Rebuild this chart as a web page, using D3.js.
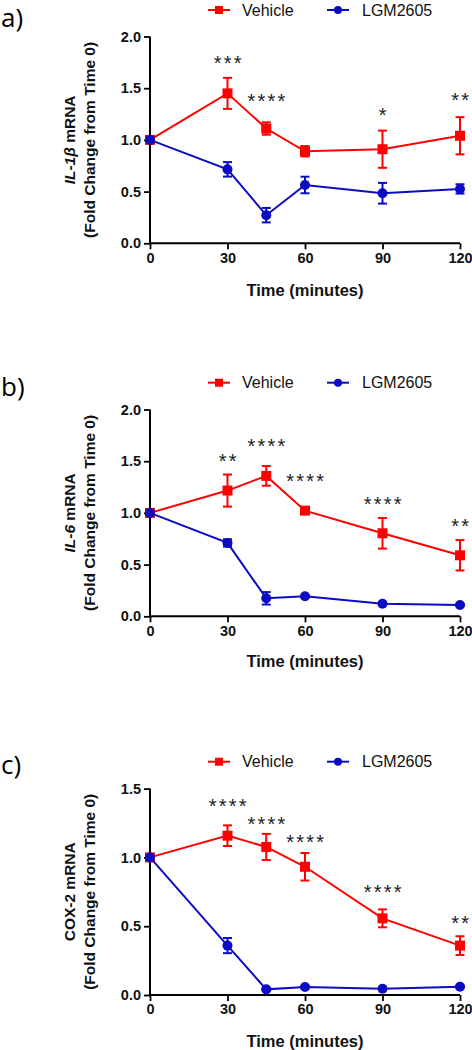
<!DOCTYPE html>
<html><head><meta charset="utf-8">
<script src="https://cdn.jsdelivr.net/npm/d3@7"></script>
<style>body{margin:0;background:#fff}svg{display:block}</style>
</head><body>
<svg id="c" width="472" height="1050"></svg>
<script>
// ---- data ----
const times = [0, 30, 45, 60, 90, 120];
const xTicks = [0, 30, 60, 90, 120];
const seriesNames = ["Vehicle", "LGM2605"];

// Panel a: IL-1β
const aVehicle = [1.00, 1.45, 1.11, 0.89, 0.91, 1.04];
const aVehicleErr = [0.00, 0.15, 0.06, 0.05, 0.18, 0.18];
const aLGM = [1.00, 0.715, 0.272, 0.564, 0.484, 0.526];
const aLGMErr = [0.00, 0.07, 0.07, 0.08, 0.10, 0.045];
const aSig = ["", "***", "****", "", "*", "**"];
const aSigLevel = [0, 1.774, 1.406, 0, 1.271, 1.416];
const aYTicks = [0.0, 0.5, 1.0, 1.5, 2.0];

// Panel b: IL-6
const bVehicle = [1.00, 1.216, 1.358, 1.022, 0.803, 0.59];
const bVehicleErr = [0.00, 0.155, 0.095, 0.02, 0.148, 0.147];
const bLGM = [1.00, 0.71, 0.174, 0.194, 0.122, 0.109];
const bLGMErr = [0.00, 0.035, 0.06, 0.012, 0.01, 0.01];
const bSig = ["", "**", "****", "****", "****", "**"];
const bSigLevel = [0, 1.53, 1.68, 1.342, 1.119, 0.903];
const bYTicks = [0.0, 0.5, 1.0, 1.5, 2.0];

// Panel c: COX-2
const cVehicle = [1.00, 1.158, 1.076, 0.932, 0.557, 0.359];
const cVehicleErr = [0.00, 0.075, 0.095, 0.10, 0.065, 0.068];
const cLGM = [1.00, 0.359, 0.041, 0.058, 0.046, 0.060];
const cLGMErr = [0.00, 0.055, 0.008, 0.008, 0.008, 0.008];
const cSig = ["", "****", "****", "****", "****", "**"];
const cSigLevel = [0, 1.397, 1.265, 1.132, 0.768, 0.545];
const cYTicks = [0.0, 0.5, 1.0, 1.5];

// ---- layout ----
const RED = "#ff0000", BLUE = "#0b0bc4";
const FONT = "'Liberation Sans', Arial, sans-serif";
const panels = [
  {label: "a)", gene: "IL-1β", italic: true, top: 36.5, bottom: 243.3, ymax: 2.0, yTicks: aYTicks,
   veh: aVehicle, vehE: aVehicleErr, lgm: aLGM, lgmE: aLGMErr, sig: aSig, sigL: aSigLevel,
   labelY: 18, legendY: 10, titleY: 290},
  {label: "b)", gene: "IL-6", italic: true, top: 409.5, bottom: 616.3, ymax: 2.0, yTicks: bYTicks,
   veh: bVehicle, vehE: bVehicleErr, lgm: bLGM, lgmE: bLGMErr, sig: bSig, sigL: bSigLevel,
   labelY: 387, legendY: 382.7, titleY: 661.7},
  {label: "c)", gene: "COX-2", italic: false, top: 788.6, bottom: 995, ymax: 1.5, yTicks: cYTicks,
   veh: cVehicle, vehE: cVehicleErr, lgm: cLGM, lgmE: cLGMErr, sig: cSig, sigL: cSigLevel,
   labelY: 765, legendY: 761.7, titleY: 1041.7}
];

const svg = d3.select("#c");
const x = d3.scaleLinear().domain([0, 120]).range([150, 460]);

panels.forEach(p => {
  const y = d3.scaleLinear().domain([0, p.ymax]).range([p.bottom, p.top]);
  const g = svg.append("g");

  // panel label
  g.append("text").attr("x", 1).attr("y", p.labelY).attr("dy", "0.35em")
    .attr("font-family", "'Open Sans', 'Liberation Sans', sans-serif").attr("font-size", 26)
    .text(p.label);

  // axes
  const xa = g.append("g").attr("transform", `translate(0,${p.bottom})`)
    .call(d3.axisBottom(x).tickValues(xTicks).tickSize(6).tickPadding(3).tickFormat(d3.format("d")));
  const ya = g.append("g").attr("transform", `translate(150,0)`)
    .call(d3.axisLeft(y).tickValues(p.yTicks).tickSize(6).tickPadding(3).tickFormat(d3.format(".1f")));
  [xa, ya].forEach(a => {
    a.select(".domain").attr("stroke", "#000").attr("stroke-width", 2);
    a.selectAll(".tick line").attr("stroke", "#000").attr("stroke-width", 1.8);
    a.selectAll(".tick text").attr("font-family", FONT).attr("font-weight", "bold")
      .attr("font-size", 14.5).attr("fill", "#111");
  });
  xa.select(".domain").attr("d", `M150,0H460`);
  ya.select(".domain").attr("d", `M0,${p.bottom}V${p.top}`);

  // axis titles
  g.append("text").attr("x", x(60)).attr("y", p.titleY).attr("dy", "0.35em")
    .attr("text-anchor", "middle").attr("font-family", FONT).attr("font-weight", "bold")
    .attr("font-size", 16.5).attr("fill", "#111").text("Time (minutes)");
  const cy = (p.top + p.bottom) / 2;
  const yl = g.append("text").attr("transform", `translate(70,${cy}) rotate(-90)`)
    .attr("text-anchor", "middle").attr("dy", "0.35em")
    .attr("font-family", FONT).attr("font-weight", "bold").attr("font-size", 15.5).attr("fill", "#111");
  yl.append("tspan").attr("font-style", p.italic ? "italic" : "normal").text(p.gene);
  yl.append("tspan").text(" mRNA");
  g.append("text").attr("transform", `translate(90,${cy}) rotate(-90)`)
    .attr("text-anchor", "middle").attr("dy", "0.35em")
    .attr("font-family", FONT).attr("font-weight", "bold").attr("font-size", 15.5).attr("fill", "#111")
    .text("(Fold Change from Time 0)");

  // series
  const line = d3.line().x((d, i) => x(times[i])).y(d => y(d));
  const drawSeries = (vals, errs, color, shape) => {
    g.append("path").datum(vals).attr("d", line).attr("fill", "none")
      .attr("stroke", color).attr("stroke-width", 2);
    vals.forEach((v, i) => {
      if (errs[i] > 0) {
        const cx = x(times[i]);
        const eb = g.append("g").attr("stroke", color).attr("stroke-width", 2);
        eb.append("line").attr("x1", cx).attr("x2", cx).attr("y1", y(v - errs[i])).attr("y2", y(v + errs[i]));
        [v - errs[i], v + errs[i]].forEach(e => eb.append("line")
          .attr("x1", cx - 4.5).attr("x2", cx + 4.5).attr("y1", y(e)).attr("y2", y(e)));
      }
    });
    vals.forEach((v, i) => {
      if (shape === "square") {
        g.append("rect").attr("x", x(times[i]) - 5).attr("y", y(v) - 5)
          .attr("width", 10).attr("height", 10).attr("fill", color);
      } else {
        g.append("circle").attr("cx", x(times[i])).attr("cy", y(v)).attr("r", 5).attr("fill", color);
      }
    });
  };
  drawSeries(p.veh, p.vehE, RED, "square");
  drawSeries(p.lgm, p.lgmE, BLUE, "circle");

  // significance stars
  p.sig.forEach((s, i) => {
    if (!s) return;
    g.append("text").attr("x", x(times[i]) + 1.25).attr("y", y(p.sigL[i]) + 10)
      .attr("text-anchor", "middle").attr("font-family", FONT).attr("font-size", 20)
      .attr("letter-spacing", 2.2).attr("fill", "#222").text(s);
  });

  // legend
  const leg = [{name: seriesNames[0], color: RED, shape: "square", x0: 208, tx: 242},
               {name: seriesNames[1], color: BLUE, shape: "circle", x0: 327, tx: 362}];
  leg.forEach(l => {
    g.append("line").attr("x1", l.x0).attr("x2", l.x0 + 22).attr("y1", p.legendY).attr("y2", p.legendY)
      .attr("stroke", l.color).attr("stroke-width", 2);
    if (l.shape === "square") g.append("rect").attr("x", l.x0 + 7).attr("y", p.legendY - 4)
      .attr("width", 8).attr("height", 8).attr("fill", l.color);
    else g.append("circle").attr("cx", l.x0 + 11).attr("cy", p.legendY).attr("r", 4).attr("fill", l.color);
    g.append("text").attr("x", l.tx).attr("y", p.legendY).attr("dy", "0.35em")
      .attr("font-family", FONT).attr("font-size", 16).attr("fill", "#111").text(l.name);
  });
});
</script>
</body></html>
